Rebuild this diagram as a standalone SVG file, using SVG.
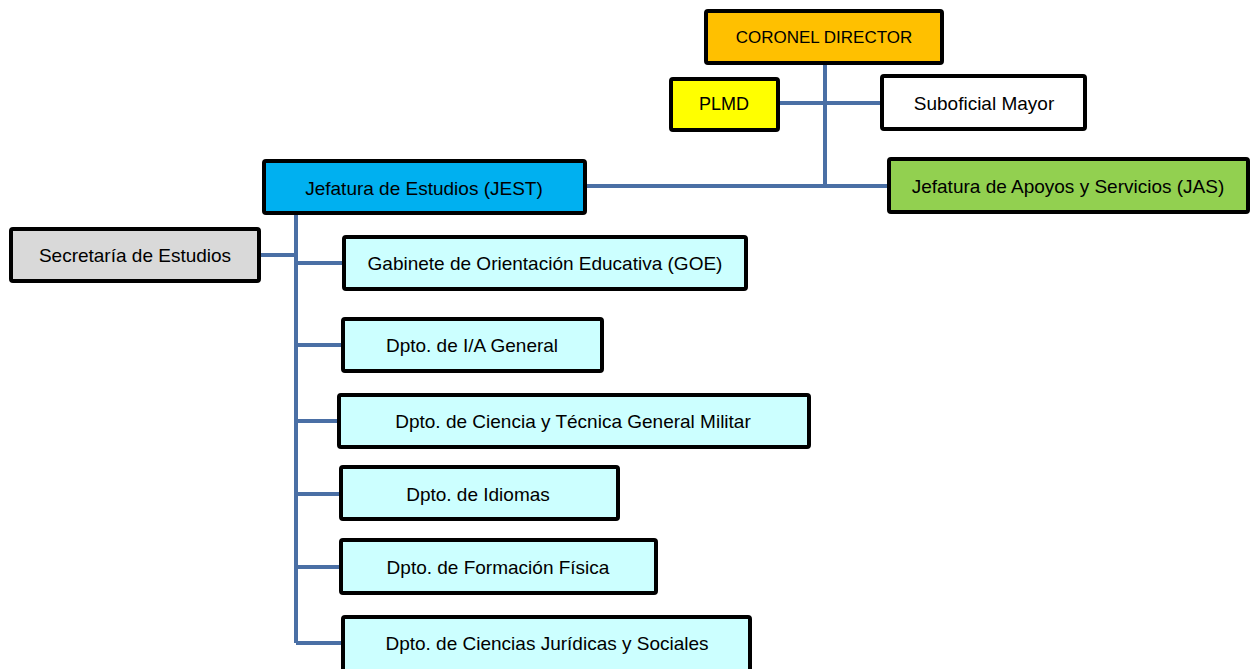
<svg xmlns="http://www.w3.org/2000/svg" width="1252" height="669" viewBox="0 0 1252 669">
<style>
.box{stroke:#000;stroke-width:4;}
.t{font-family:"Liberation Sans",Arial,sans-serif;font-size:19px;fill:#000;text-anchor:middle;dominant-baseline:central;}
.c{stroke:#4A6FA5;stroke-width:4;fill:none;}
</style>
<rect width="1252" height="669" fill="#fff"/>
<g id="connectors">
<path class="c" d="M825 63V186M779 103H881M586 186H888"/>
<path class="c" d="M296 214V643M260 255H296M296 263H343M296 345H342M296 421H338M296 494H340M296 567H340M296 643H342"/>
</g>
<g id="coronel"><rect class="box" x="706" y="11" width="236" height="52" rx="2" fill="#FFC000"/><text class="t" x="824" y="37" style="font-size:17px">CORONEL DIRECTOR</text></g>
<g id="plmd"><rect class="box" x="671" y="79" width="107" height="51" rx="2" fill="#FFFF00"/><text class="t" x="724" y="104" style="font-size:18px">PLMD</text></g>
<g id="suboficial"><rect class="box" x="882" y="76" width="203" height="53" rx="2" fill="#FFFFFF"/><text class="t" x="984" y="103">Suboficial Mayor</text></g>
<g id="jas"><rect class="box" x="889" y="159" width="359" height="53" rx="2" fill="#92D050"/><text class="t" x="1068" y="186">Jefatura de Apoyos y Servicios (JAS)</text></g>
<g id="jest"><rect class="box" x="264" y="161" width="321" height="52" rx="2" fill="#00B0F0"/><text class="t" x="424" y="188">Jefatura de Estudios (JEST)</text></g>
<g id="secretaria"><rect class="box" x="11" y="229" width="248" height="52" rx="2" fill="#D9D9D9"/><text class="t" x="135" y="255">Secretaría de Estudios</text></g>
<g id="goe"><rect class="box" x="344" y="237" width="402" height="52" rx="2" fill="#CCFFFF"/><text class="t" x="545" y="263">Gabinete de Orientación Educativa (GOE)</text></g>
<g id="ia"><rect class="box" x="343" y="319" width="259" height="52" rx="2" fill="#CCFFFF"/><text class="t" x="472" y="345">Dpto. de I/A General</text></g>
<g id="ciencia"><rect class="box" x="339" y="395" width="470" height="52" rx="2" fill="#CCFFFF"/><text class="t" x="573" y="421">Dpto. de Ciencia y Técnica General Militar</text></g>
<g id="idiomas"><rect class="box" x="341" y="467" width="277" height="52" rx="2" fill="#CCFFFF"/><text class="t" x="478" y="494">Dpto. de Idiomas</text></g>
<g id="fisica"><rect class="box" x="341" y="540" width="315" height="53" rx="2" fill="#CCFFFF"/><text class="t" x="498" y="567">Dpto. de Formación Física</text></g>
<g id="juridicas"><rect class="box" x="343" y="617" width="407" height="60" rx="2" fill="#CCFFFF"/><text class="t" x="547" y="643">Dpto. de Ciencias Jurídicas y Sociales</text></g>
</svg>
